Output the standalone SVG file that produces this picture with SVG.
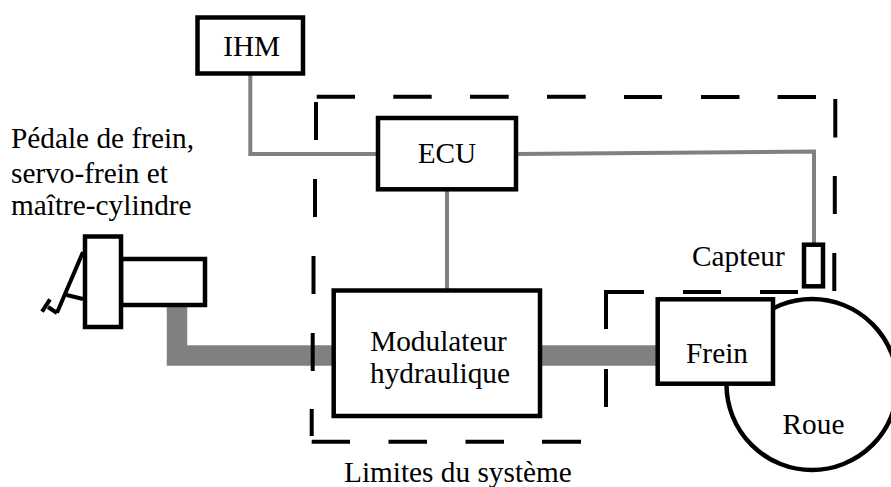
<svg xmlns="http://www.w3.org/2000/svg" width="891" height="487" viewBox="0 0 891 487">
<style>
.box{fill:#fff;stroke:#000;stroke-width:4.500}
.dash{fill:none;stroke:#000;stroke-width:4}
.thin{fill:none;stroke:#808080;stroke-width:4}
.thick{fill:none;stroke:#808080;stroke-width:20.500}
.ped{fill:none;stroke:#000;stroke-width:4}
text{font-family:"Liberation Serif","Times New Roman",serif;font-size:29.300px;fill:#000}
.m{text-anchor:middle}
</style>
<rect width="891" height="487" fill="#fff"/>
<g id="connectors">
<path class="thin" d="M250.300 73V154H378"/>
<path class="thin" d="M516 154L814 151.500V244"/>
<path class="thin" d="M447 189V290"/>
<path class="thick" d="M177 305V355.500H333"/>
<path class="thick" d="M541 355.500H658"/>
</g>
<g id="boundary">
<path class="dash" d="M316.700 96.700H355M393.300 96.700H431.700M470 96.700H508.700M547 96.700H585.700M624 97H662M701 97H739.500M777.600 97H816"/>
<path class="dash" d="M835.300 99V137.600M834.800 176V214M834.300 253V291"/>
<path class="dash" d="M316 102V140M315 179V217M313.500 256V294M312.700 333V371M311.700 409V436"/>
<path class="dash" d="M311.700 441.700H350M388.500 441.700H427M465.500 441.700H504M542 441.700H581"/>
<path class="dash" d="M606 407V369M606 329V292H644M683 292H721M760 292H798"/>
</g>
<g id="roue"><circle class="box" cx="812" cy="384.500" r="85.500"/><text x="813.500" y="434" class="m">Roue</text></g>
<g id="ihm"><rect class="box" x="197.500" y="17.500" width="105.500" height="56"/><text x="251.700" y="56" class="m">IHM</text></g>
<g id="ecu"><rect class="box" x="378" y="118" width="138" height="71.300"/><text x="447" y="163" class="m">ECU</text></g>
<g id="modulateur"><rect class="box" x="333.700" y="290.500" width="206.300" height="125.500"/><text x="438.500" y="350.500" class="m">Modulateur</text><text x="440" y="383.300" class="m">hydraulique</text></g>
<g id="frein"><rect class="box" x="657.700" y="299.300" width="115.300" height="84.400"/><text x="717" y="362.700" class="m">Frein</text></g>
<g id="capteur"><rect class="box" x="804" y="244.700" width="19" height="41.600"/><text x="692" y="266">Capteur</text></g>
<g id="pedale">
<path class="ped" d="M83 252L57 312.700M66.700 295L83 299M42 311.700L50 299.300M48 307L57 313"/>
<rect class="box" x="121" y="259" width="84" height="46"/>
<rect class="box" x="85" y="236.500" width="36" height="90.500"/>
<text x="11" y="148">Pédale de frein,</text><text x="11" y="183">servo-frein et</text><text x="11" y="215">maître-cylindre</text>
</g>
<text id="limites" x="344" y="481.700">Limites du système</text>
</svg>
